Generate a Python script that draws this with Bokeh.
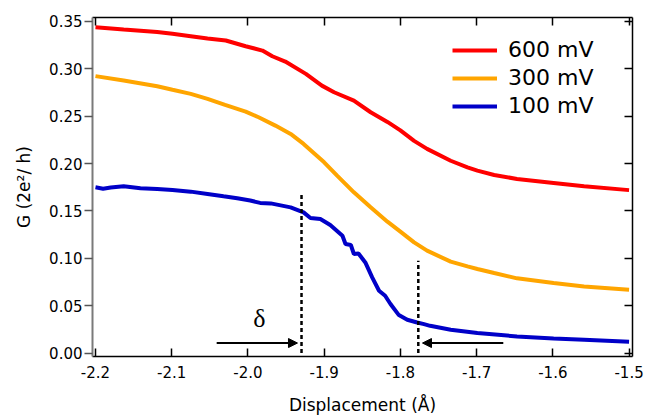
from bokeh.plotting import figure
from bokeh.models import (LinearAxis, FixedTicker, NumeralTickFormatter, Legend,
                          LegendItem, Arrow, NormalHead, Range1d, Label)
from bokeh.embed import file_html
from bokeh.resources import INLINE

# ---- data ----
red_x = [-2.200, -2.163, -2.119, -2.099, -2.075, -2.053, -2.029, -2.003, -1.981, -1.968,
         -1.951, -1.924, -1.903, -1.887, -1.861, -1.839, -1.817, -1.800, -1.782, -1.765,
         -1.734, -1.712, -1.699, -1.677, -1.647, -1.599, -1.559, -1.500]
red_y = [0.344, 0.3415, 0.339, 0.337, 0.3345, 0.332, 0.3299, 0.3239, 0.3193, 0.3133,
         0.3077, 0.2947, 0.2823, 0.2753, 0.2665, 0.2542, 0.244, 0.235, 0.224, 0.2155,
         0.203, 0.196, 0.1926, 0.188, 0.1838, 0.1796, 0.176, 0.172]

orange_x = [-2.200, -2.163, -2.119, -2.099, -2.075, -2.053, -2.030, -2.003, -1.986, -1.964,
            -1.944, -1.927, -1.900, -1.883, -1.861, -1.839, -1.817, -1.800, -1.782,
            -1.765, -1.734, -1.712, -1.699, -1.677, -1.647, -1.599, -1.559, -1.500]
orange_y = [0.2923, 0.2877, 0.2817, 0.278, 0.2736, 0.2683, 0.262, 0.2549, 0.2489, 0.2401,
            0.2313, 0.2208, 0.2014, 0.1873, 0.1697, 0.1539, 0.1387, 0.1282, 0.1169,
            0.1081, 0.0965, 0.0915, 0.0887, 0.0845, 0.0789, 0.0739, 0.0704, 0.0669]

blue_x = [-2.200, -2.190, -2.180, -2.163, -2.141, -2.119, -2.099, -2.075, -2.053, -2.032,
          -2.014, -1.997, -1.984, -1.970, -1.944, -1.927, -1.918, -1.905, -1.892, -1.876,
          -1.872, -1.865, -1.861, -1.855, -1.846, -1.837, -1.828, -1.820, -1.813, -1.802,
          -1.791, -1.778, -1.769, -1.761, -1.734, -1.699, -1.647, -1.599, -1.559, -1.500]
blue_y = [0.175, 0.1735, 0.1748, 0.176, 0.174, 0.1732, 0.1722, 0.1704, 0.168, 0.1655,
          0.1634, 0.161, 0.1585, 0.158, 0.1538, 0.1485, 0.1426, 0.1415, 0.1352, 0.1239,
          0.1151, 0.1141, 0.1046, 0.1052, 0.0957, 0.0799, 0.0658, 0.0605, 0.0518, 0.0401,
          0.0352, 0.0323, 0.0306, 0.0288, 0.0246, 0.0211, 0.0176, 0.0155, 0.0141, 0.012]

series_labels = ["600 mV", "300 mV", "100 mV"]
x_ticks = [-2.2, -2.1, -2.0, -1.9, -1.8, -1.7, -1.6, -1.5]
y_ticks = [0.0, 0.05, 0.10, 0.15, 0.20, 0.25, 0.30, 0.35]

# dotted markers and arrows (data coordinates)
marker_x = [-1.9297, -1.7765]
marker_bottom = [0.0, 0.0]
marker_top = [0.168, 0.0975]
arrow_y = 0.0106
arrow_left = (-2.041, -1.935)
arrow_right = (-1.665, -1.771)
delta_pos = (-1.985, 0.036)

FONT = "DejaVu Sans"

p = figure(width=645, height=417, output_backend="svg", toolbar_location=None,
           x_range=Range1d(-2.2039, -1.4955), y_range=Range1d(-0.0036, 0.3542),
           min_border_left=92, min_border_right=13, min_border_top=17, min_border_bottom=61,
           background_fill_color="white", border_fill_color="white")
p.grid.visible = False
p.outline_line_color = None

r_red = p.line(red_x, red_y, line_color="#ff0000", line_width=4)
r_orange = p.line(orange_x, orange_y, line_color="#ffa500", line_width=4)
r_blue = p.line(blue_x, blue_y, line_color="#0000c8", line_width=4)

p.segment(x0=marker_x, y0=marker_bottom, x1=marker_x, y1=marker_top,
          line_color="black", line_width=2.5, line_dash="4 3")

for (xs, xe) in (arrow_left, arrow_right):
    p.add_layout(Arrow(end=NormalHead(size=9, fill_color="black", line_color="black"),
                       x_start=xs, y_start=arrow_y, x_end=xe, y_end=arrow_y,
                       line_color="black", line_width=2))

p.add_layout(Label(x=delta_pos[0], y=delta_pos[1], text="δ", text_font="Liberation Serif",
                   text_font_size="26px", text_align="center", text_baseline="middle",
                   text_color="black"))

# main axes
xa = p.xaxis[0]
xa.ticker = FixedTicker(ticks=x_ticks)
xa.formatter = NumeralTickFormatter(format="0.0")
xa.major_tick_in = 8
xa.major_tick_out = 0
xa.minor_tick_line_color = None
xa.axis_line_color = "black"
xa.axis_line_width = 1.5
xa.major_tick_line_width = 1.5
xa.major_label_text_font = FONT
xa.major_label_text_font_size = "15px"
xa.major_label_text_color = "black"
xa.major_label_standoff = 9
xa.axis_label = "Displacement (Å)"
xa.axis_label_text_font = FONT
xa.axis_label_text_font_size = "17px"
xa.axis_label_text_font_style = "normal"
xa.axis_label_text_color = "black"
xa.axis_label_standoff = 14

ya = p.yaxis[0]
ya.ticker = FixedTicker(ticks=y_ticks)
ya.formatter = NumeralTickFormatter(format="0.00")
ya.major_tick_in = 0
ya.major_tick_out = 8
ya.minor_tick_line_color = None
ya.axis_line_color = "#7a7a7a"
ya.axis_line_width = 2
ya.major_tick_line_color = "#555555"
ya.major_tick_line_width = 1.5
ya.major_label_text_font = FONT
ya.major_label_text_font_size = "15px"
ya.major_label_text_color = "black"
ya.major_label_standoff = 2
ya.axis_label = "G (2e²/ h)"
ya.axis_label_text_font = FONT
ya.axis_label_text_font_size = "17px"
ya.axis_label_text_font_style = "normal"
ya.axis_label_text_color = "black"
ya.axis_label_standoff = 12

top = LinearAxis(ticker=FixedTicker(ticks=x_ticks), major_tick_in=8, major_tick_out=0,
                 minor_tick_line_color=None, major_label_text_font_size="1px",
                 major_label_text_color=None,
                 major_label_standoff=0, axis_line_color="black", axis_line_width=1.5,
                 major_tick_line_width=1.5)
p.add_layout(top, "above")
right = LinearAxis(ticker=FixedTicker(ticks=y_ticks), major_tick_in=8, major_tick_out=0,
                   minor_tick_line_color=None, major_label_text_font_size="1px",
                   major_label_text_color=None,
                   major_label_standoff=0, axis_line_color="black", axis_line_width=1.5,
                   major_tick_line_width=1.5)
p.add_layout(right, "right")

legend = Legend(items=[LegendItem(label=series_labels[0], renderers=[r_red]),
                       LegendItem(label=series_labels[1], renderers=[r_orange]),
                       LegendItem(label=series_labels[2], renderers=[r_blue])],
                location=(360, 238), border_line_color=None, background_fill_alpha=0,
                glyph_width=45, glyph_height=20, label_standoff=11, label_height=20,
                label_text_font=FONT, label_text_font_size="22px", label_text_color="black",
                spacing=3, padding=0, margin=0)
p.add_layout(legend)

open("out.html", "w").write(file_html(p, INLINE))
